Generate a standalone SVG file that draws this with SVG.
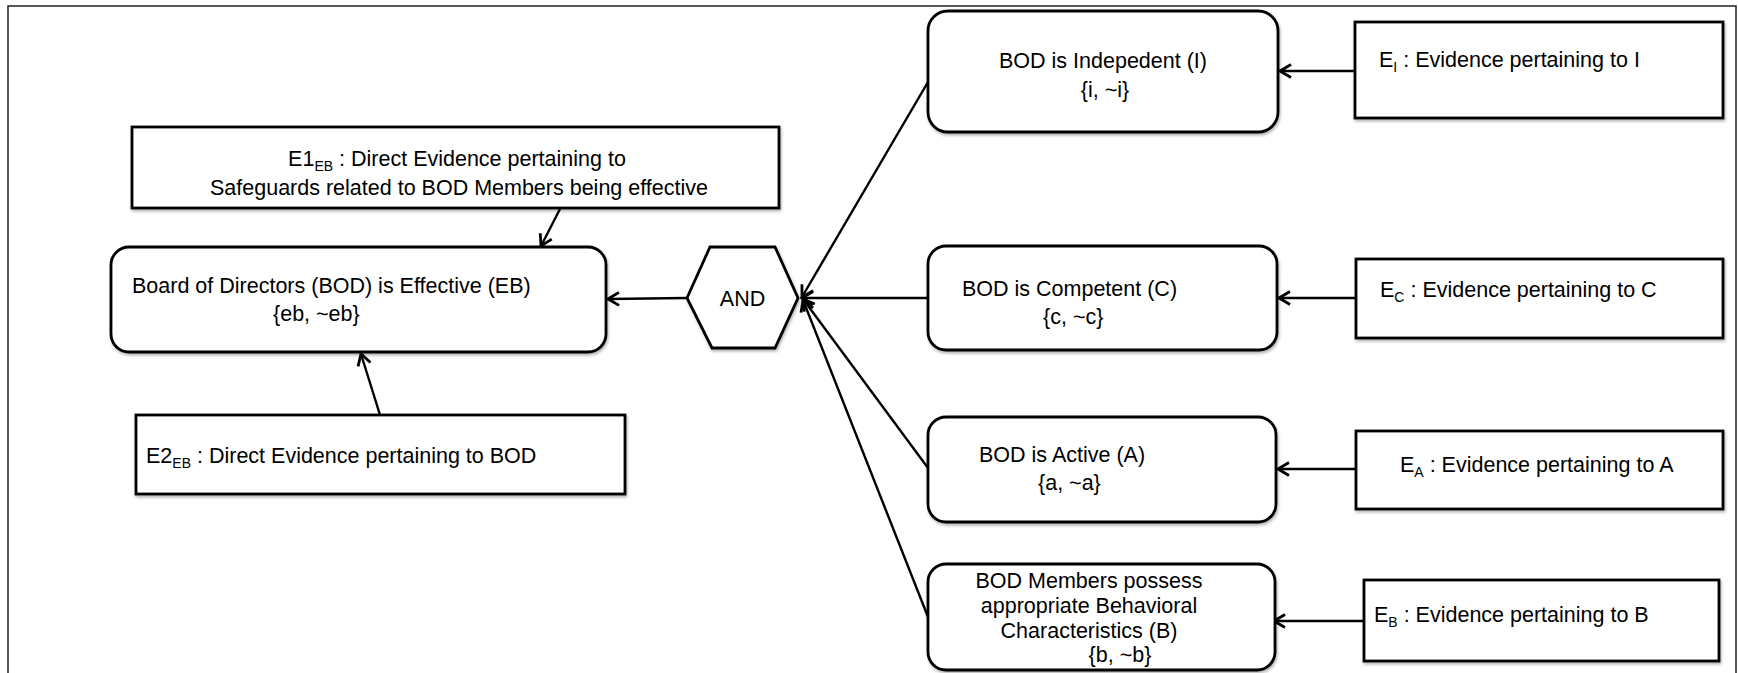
<svg xmlns="http://www.w3.org/2000/svg" width="1738" height="673" viewBox="0 0 1738 673">
<style>
.box{fill:#fff;stroke:#000;stroke-width:2.8;filter:url(#sh)}
.t{font-family:"Liberation Sans",Arial,sans-serif;font-size:21.5px;fill:#000}
.m{text-anchor:middle}
.sub{font-size:14px}
.c{fill:none;stroke:#000;stroke-width:2.4;marker-end:url(#ah)}
</style>
<defs>
<filter id="sh" x="-5%" y="-10%" width="110%" height="130%">
<feDropShadow dx="1" dy="2" stdDeviation="1.5" flood-color="#000" flood-opacity="0.3"/>
</filter>
<marker id="ah" viewBox="0 0 16 16" refX="14" refY="8" markerWidth="16" markerHeight="16" markerUnits="userSpaceOnUse" orient="auto">
<path d="M3,1.5 L14,8 L3,14.5" fill="none" stroke="#000" stroke-width="2.8"/>
</marker>
</defs>
<rect x="8" y="6" width="1728" height="700" fill="#fff" stroke="#222" stroke-width="1.5"/>

<g id="connectors">
<line class="c" x1="1355" y1="71" x2="1280" y2="71"/>
<line class="c" x1="1356" y1="298" x2="1279" y2="298"/>
<line class="c" x1="1356" y1="469" x2="1278" y2="469"/>
<line class="c" x1="1364" y1="621" x2="1274" y2="621"/>
<line class="c" x1="687" y1="298" x2="608" y2="299"/>
<line class="c" x1="928" y1="82" x2="802" y2="297"/>
<line class="c" x1="928" y1="298" x2="802" y2="298"/>
<line class="c" x1="928" y1="468" x2="803" y2="299"/>
<line class="c" x1="928" y1="617" x2="803" y2="300"/>
<line class="c" x1="560" y1="209" x2="541" y2="246"/>
<line class="c" x1="380" y1="415" x2="361" y2="354"/>
</g>

<g id="node-e1">
<rect class="box" x="132" y="127" width="647" height="81"/>
<text class="t m" x="457" y="166">E1<tspan class="sub" dy="5">EB</tspan><tspan dy="-5"> : Direct Evidence pertaining to</tspan></text>
<text class="t m" x="459" y="195">Safeguards related to BOD Members being effective</text>
</g>

<g id="node-eb">
<rect class="box" x="111" y="247" width="495" height="105" rx="18"/>
<text class="t" x="132" y="293">Board of Directors (BOD) is Effective (EB)</text>
<text class="t" x="273" y="321">{eb, ~eb}</text>
</g>

<g id="node-e2">
<rect class="box" x="136" y="415" width="489" height="79"/>
<text class="t" x="146" y="463">E2<tspan class="sub" dy="5">EB</tspan><tspan dy="-5"> : Direct Evidence pertaining to BOD</tspan></text>
</g>

<g id="node-and">
<polygon class="box" points="687,298 710,247 775,247 798,298 775,348 712,348"/>
<text class="t m" x="742.5" y="306">AND</text>
</g>

<g id="node-i">
<rect class="box" x="928" y="11" width="350" height="121" rx="20"/>
<text class="t m" x="1103" y="68">BOD is Indepedent (I)</text>
<text class="t m" x="1105" y="97">{i, ~i}</text>
</g>

<g id="node-c">
<rect class="box" x="928" y="246" width="349" height="104" rx="18"/>
<text class="t" x="962" y="296">BOD is Competent (C)</text>
<text class="t" x="1043" y="324">{c, ~c}</text>
</g>

<g id="node-a">
<rect class="box" x="928" y="417" width="348" height="105" rx="18"/>
<text class="t" x="979" y="462">BOD is Active (A)</text>
<text class="t" x="1038" y="490">{a, ~a}</text>
</g>

<g id="node-b">
<rect class="box" x="928" y="564" width="347" height="106" rx="18"/>
<text class="t m" x="1089" y="588">BOD Members possess</text>
<text class="t m" x="1089" y="613">appropriate Behavioral</text>
<text class="t m" x="1089" y="638">Characteristics (B)</text>
<text class="t m" x="1120" y="662">{b, ~b}</text>
</g>

<g id="node-ei">
<rect class="box" x="1355" y="22" width="368" height="96"/>
<text class="t" x="1379" y="67">E<tspan class="sub" dy="5">I</tspan><tspan dy="-5"> : Evidence pertaining to I</tspan></text>
</g>

<g id="node-ec">
<rect class="box" x="1356" y="259" width="367" height="79"/>
<text class="t" x="1380" y="297">E<tspan class="sub" dy="5">C</tspan><tspan dy="-5"> : Evidence pertaining to C</tspan></text>
</g>

<g id="node-ea">
<rect class="box" x="1356" y="431" width="367" height="78"/>
<text class="t" x="1400" y="472">E<tspan class="sub" dy="5">A</tspan><tspan dy="-5"> : Evidence pertaining to A</tspan></text>
</g>

<g id="node-eb-ev">
<rect class="box" x="1364" y="580" width="355" height="81"/>
<text class="t" x="1374" y="622">E<tspan class="sub" dy="5">B</tspan><tspan dy="-5"> : Evidence pertaining to B</tspan></text>
</g>
</svg>
